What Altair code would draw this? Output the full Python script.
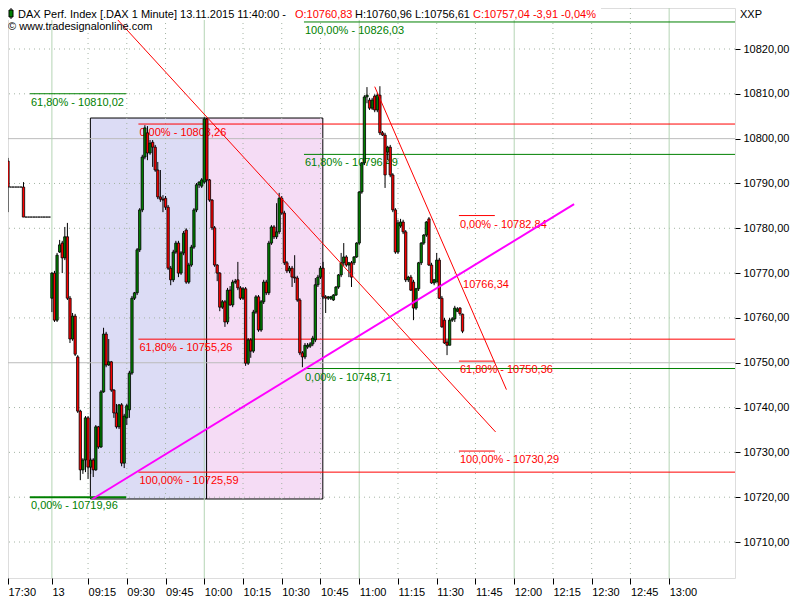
import json
import altair as alt
import pandas as pd

FONT = "Liberation Sans"

# ---------------- candle data (bar index 0 = 17:30 of previous day, 17 = first bar of 13.11.) ----------------
opens = [
    10795.0, 10789.2, 10789.2, 10789.2, 10789.2, 10789.2, 10789.2,
    10782.5, 10782.5, 10782.5, 10782.5, 10782.5, 10782.5, 10782.5, 10782.5, 10782.5, 10782.5,
    10764.4, 10770.0, 10759.5, 10774.7, 10776.7, 10773.4, 10778.1, 10764.4, 10755.3, 10760.4,
    10751.3, 10739.2, 10726.1, 10728.3, 10737.7, 10726.7, 10728.3, 10726.1, 10735.7, 10731.2,
    10743.5, 10756.4, 10749.5, 10750.2, 10743.9, 10738.8, 10735.7, 10740.6, 10727.6, 10737.7,
    10739.5, 10747.7, 10764.4, 10765.6, 10775.2, 10784.1, 10795.9, 10801.3, 10796.8, 10799.2,
    10798.1, 10793.0, 10787.0, 10786.5, 10786.7, 10784.7, 10771.1, 10768.5, 10774.7, 10776.7,
    10770.0, 10774.5, 10779.6, 10768.0, 10771.8, 10775.8, 10784.1, 10789.7, 10789.4, 10790.3,
    10804.4, 10790.8, 10786.3, 10780.1, 10771.8, 10770.0, 10762.4, 10763.6, 10759.1, 10766.2,
    10762.9, 10768.0, 10768.5, 10766.7, 10764.4, 10766.5, 10749.9, 10755.1, 10752.6, 10761.3,
    10764.7, 10757.3, 10763.6, 10768.0, 10765.6, 10776.7, 10780.3, 10778.1, 10779.2, 10786.7,
    10783.4, 10772.3, 10770.5, 10771.1, 10769.1, 10768.9, 10764.0, 10752.2, 10751.3, 10753.5,
    10753.7, 10754.2, 10755.1, 10767.4, 10769.1, 10771.1, 10764.7, 10764.4, 10764.4, 10764.0,
    10765.1, 10766.9, 10769.6, 10772.3, 10773.6, 10771.8, 10772.3, 10772.3, 10773.6, 10776.7,
    10788.1, 10794.6, 10809.3, 10808.6, 10806.8, 10809.5, 10806.4, 10809.7, 10801.3, 10800.8,
    10797.0, 10798.1, 10791.9, 10784.1, 10774.7, 10780.5, 10781.4, 10779.2, 10768.5, 10769.1,
    10768.0, 10762.2, 10766.5, 10772.3, 10776.7, 10778.5, 10782.1, 10771.8, 10767.8, 10768.0,
    10772.9, 10764.4, 10759.5, 10754.6, 10753.9, 10759.5, 10759.8, 10761.5, 10762.2, 10760.83,
]
highs = [
    10795.7, 10789.2, 10789.2, 10789.2, 10789.2, 10789.2, 10790.3,
    10782.5, 10782.5, 10782.5, 10782.5, 10782.5, 10782.5, 10782.5, 10782.5, 10782.5, 10782.5,
    10770.2, 10770.5, 10774.5, 10777.4, 10777.2, 10780.3, 10781.2, 10764.9, 10761.1, 10760.9,
    10751.7, 10739.5, 10728.7, 10738.1, 10738.1, 10728.7, 10728.7, 10736.1, 10735.9, 10743.9,
    10757.8, 10756.9, 10755.3, 10750.4, 10744.1, 10740.8, 10740.8, 10741.0, 10738.6, 10740.8,
    10748.2, 10764.9, 10765.8, 10775.6, 10784.5, 10796.4, 10803.0, 10802.8, 10799.7, 10799.7,
    10798.6, 10794.8, 10793.0, 10787.4, 10787.2, 10785.2, 10771.6, 10775.2, 10777.2, 10777.2,
    10774.9, 10779.4, 10780.0, 10772.3, 10776.3, 10784.5, 10790.1, 10790.5, 10791.2, 10804.8,
    10804.6, 10791.0, 10786.5, 10780.5, 10772.0, 10770.2, 10764.0, 10764.0, 10766.7, 10767.1,
    10768.5, 10768.7, 10772.5, 10767.1, 10766.9, 10766.9, 10755.5, 10755.5, 10761.8, 10765.1,
    10765.1, 10764.0, 10768.5, 10768.5, 10777.2, 10780.7, 10780.7, 10785.6, 10787.9, 10787.2,
    10783.9, 10772.7, 10771.6, 10771.6, 10774.0, 10769.4, 10764.4, 10752.6, 10754.4, 10754.4,
    10754.6, 10756.0, 10768.9, 10769.6, 10771.6, 10772.5, 10765.1, 10764.9, 10764.9, 10765.3,
    10767.1, 10769.8, 10774.5, 10776.7, 10774.0, 10772.5, 10772.7, 10773.8, 10776.9, 10788.3,
    10794.8, 10809.7, 10811.5, 10809.1, 10809.1, 10809.9, 10810.2, 10811.7, 10801.7, 10801.3,
    10798.4, 10798.6, 10792.3, 10784.5, 10781.9, 10782.1, 10781.9, 10779.6, 10769.4, 10769.6,
    10768.5, 10766.7, 10772.5, 10776.9, 10778.7, 10781.6, 10782.5, 10772.3, 10768.7, 10774.5,
    10773.4, 10764.9, 10760.0, 10755.1, 10760.0, 10760.2, 10762.7, 10762.4, 10762.4, 10760.96,
]
lows = [
    10783.6, 10789.2, 10789.2, 10789.2, 10789.2, 10789.2, 10782.5,
    10782.5, 10782.5, 10782.5, 10782.5, 10782.5, 10782.5, 10782.5, 10782.5, 10782.5, 10782.5,
    10761.3, 10759.1, 10759.1, 10774.5, 10770.0, 10772.9, 10764.0, 10754.4, 10754.9, 10751.5,
    10738.8, 10723.8, 10725.2, 10725.6, 10724.1, 10725.2, 10724.5, 10725.9, 10730.8, 10731.0,
    10743.3, 10749.0, 10749.3, 10743.5, 10737.7, 10735.3, 10735.2, 10726.9, 10726.5, 10736.1,
    10737.7, 10747.3, 10764.0, 10765.1, 10774.7, 10783.6, 10795.4, 10795.2, 10796.4, 10793.7,
    10792.6, 10786.5, 10785.9, 10783.6, 10784.1, 10770.7, 10767.3, 10768.0, 10774.3, 10769.1,
    10769.6, 10774.0, 10767.6, 10767.6, 10771.4, 10775.4, 10783.6, 10789.0, 10789.0, 10789.9,
    10790.5, 10785.9, 10779.6, 10771.4, 10768.2, 10761.5, 10762.0, 10758.0, 10758.6, 10762.7,
    10762.4, 10767.6, 10766.2, 10764.0, 10764.0, 10749.3, 10749.5, 10751.1, 10752.2, 10760.9,
    10756.9, 10756.9, 10763.1, 10765.1, 10765.1, 10776.3, 10777.6, 10777.6, 10778.7, 10783.0,
    10771.8, 10770.0, 10770.0, 10766.9, 10767.8, 10763.6, 10751.7, 10749.0, 10750.8, 10753.1,
    10753.3, 10753.7, 10754.6, 10766.9, 10768.7, 10764.2, 10761.1, 10764.0, 10764.0, 10763.8,
    10764.9, 10766.5, 10769.1, 10771.6, 10771.4, 10769.1, 10766.9, 10771.8, 10773.4, 10776.3,
    10787.7, 10794.1, 10807.9, 10806.4, 10806.4, 10805.9, 10805.9, 10800.8, 10800.6, 10789.0,
    10795.2, 10791.4, 10783.6, 10774.3, 10774.3, 10780.1, 10778.7, 10768.0, 10768.0, 10766.0,
    10759.5, 10761.8, 10766.0, 10771.8, 10776.3, 10778.1, 10771.6, 10767.6, 10767.3, 10768.0,
    10764.2, 10757.8, 10754.2, 10751.7, 10753.9, 10759.1, 10759.1, 10761.3, 10760.5, 10756.61,
]
closes = [
    10789.2, 10789.2, 10789.2, 10789.2, 10789.2, 10789.2, 10782.5,
    10782.5, 10782.5, 10782.5, 10782.5, 10782.5, 10782.5, 10782.5, 10782.5, 10782.5, 10782.5,
    10770.0, 10759.5, 10774.0, 10776.3, 10773.4, 10778.1, 10764.4, 10755.3, 10760.4, 10751.9,
    10739.2, 10726.1, 10728.3, 10737.7, 10726.7, 10728.3, 10726.1, 10735.7, 10731.2, 10743.5,
    10756.4, 10749.5, 10750.2, 10743.9, 10738.8, 10735.7, 10740.6, 10727.6, 10738.1, 10740.4,
    10747.7, 10764.4, 10765.6, 10775.2, 10784.1, 10795.9, 10802.4, 10796.8, 10799.0, 10798.1,
    10793.0, 10787.0, 10786.5, 10786.3, 10784.7, 10771.1, 10768.5, 10774.7, 10776.7, 10770.0,
    10774.5, 10778.9, 10768.0, 10771.8, 10775.8, 10784.1, 10789.7, 10790.3, 10790.8, 10804.4,
    10790.8, 10786.3, 10780.1, 10771.8, 10770.0, 10762.4, 10763.6, 10759.1, 10766.2, 10762.9,
    10768.0, 10768.2, 10766.7, 10764.4, 10766.5, 10749.9, 10755.1, 10752.6, 10761.3, 10764.7,
    10757.3, 10763.6, 10768.0, 10765.6, 10776.7, 10780.3, 10778.1, 10779.2, 10786.7, 10783.4,
    10772.3, 10770.5, 10771.1, 10769.1, 10768.9, 10764.0, 10752.2, 10751.3, 10753.9, 10753.9,
    10754.2, 10755.5, 10767.4, 10769.1, 10771.1, 10764.7, 10764.4, 10764.7, 10764.7, 10765.1,
    10766.9, 10769.6, 10772.3, 10773.6, 10771.8, 10772.3, 10769.1, 10773.6, 10776.7, 10788.1,
    10794.6, 10809.3, 10809.7, 10806.8, 10808.6, 10806.4, 10809.7, 10801.3, 10800.8, 10791.9,
    10798.1, 10791.9, 10784.1, 10774.7, 10781.2, 10781.4, 10779.2, 10768.5, 10769.1, 10766.2,
    10762.2, 10766.5, 10772.3, 10776.7, 10778.5, 10781.4, 10771.8, 10767.8, 10768.5, 10772.9,
    10764.4, 10758.0, 10754.4, 10753.9, 10759.5, 10759.8, 10762.2, 10762.0, 10760.95, 10757.04,
]

# ---------------- axes ----------------
tick_idx = [0, 17, 31, 46, 61, 76, 91, 106, 121, 136, 151, 166, 181, 196, 211, 226, 241, 256]
tick_lab = ["17:30", "13", "09:15", "09:30", "09:45", "10:00", "10:15", "10:30", "10:45",
            "11:00", "11:15", "11:30", "11:45", "12:00", "12:15", "12:30", "12:45", "13:00"]
hour_idx = [17, 76, 136, 196, 256]
quarter_idx = [31, 46, 61, 91, 106, 121, 151, 166, 181, 211, 226, 241]
y_ticks = [10710, 10720, 10730, 10740, 10750, 10760, 10770, 10780, 10790, 10800, 10810, 10820]
solid_levels = [10750, 10800]

# ---------------- drawing tools ----------------
fib_x1 = [114.6, 114.6, 114.6, 8.5, 8.5, 50.5, 50.5, 50.5, 174.6, 174.6, 174.6]
fib_x2 = [281.5, 281.5, 281.5, 45.8, 45.8, 281.5, 281.5, 281.5, 188.5, 188.5, 188.5]
fib_level = [10826.03, 10796.49, 10748.71, 10810.02, 10719.96,
             10803.26, 10755.26, 10725.59, 10782.84, 10750.36, 10730.29]
fib_pct = ["100,00%", "61,80%", "0,00%", "61,80%", "0,00%",
           "0,00%", "61,80%", "100,00%", "0,00%", "61,80%", "100,00%"]
fib_color = ["#008000"] * 5 + ["#ff0000"] * 6
fib_width = [1, 1, 1, 1, 2, 1, 1, 1, 1, 1, 1]

magenta_k = [32.7, 219.2]
magenta_p = [10719.6, 10785.4]
red1_k = [30.0, 188.8]
red1_p = [10834.35, 10734.55]
red2_k = [142.0, 193.0]
red2_p = [10811.6, 10744.0]
trend_label_k = 175.8
trend_label_p = 10766.34

box_k1 = [31.9, 76.9]
box_k2 = [76.9, 121.9]
box_lo = [10719.6, 10719.6]
box_hi = [10804.6, 10804.6]
box_fill = ["#dcdcf5", "#f5dcf5"]

# ---------------- build ----------------
xs = alt.Scale(domain=[0, 281.5], nice=False, zero=False)
ys = alt.Scale(domain=[10701.97, 10829.15], nice=False, zero=False)
label_expr = f"{json.dumps(tick_lab)}[indexof({json.dumps(tick_idx)}, datum.value)]"

X_AXIS = alt.Axis(values=tick_idx, labelExpr=label_expr, title=None, grid=False, domain=False,
                  ticks=True, tickColor="black", tickSize=6, labelAlign="left", labelBaseline="top",
                  labelPadding=2, labelFont=FONT, labelFontSize=11, labelColor="black",
                  labelFlush=False, labelOverlap=False, labelBound=False)
Y_AXIS = alt.Axis(orient="right", values=y_ticks,
                  labelExpr="replace(format(datum.value, '.2f'), '.', ',')", title=None,
                  grid=False, domain=False, tickSize=5, tickColor="black", labelPadding=3,
                  labelFont=FONT, labelFontSize=11, labelColor="black", labelAlign="left",
                  labelBaseline="middle", labelFlush=False, labelOverlap=False)


def X(f):
    return alt.X(f, type="quantitative", scale=xs, axis=X_AXIS)


def Y(f):
    return alt.Y(f, type="quantitative", scale=ys, axis=Y_AXIS)


candles = pd.DataFrame({"k": list(range(len(closes))), "open": opens, "high": highs,
                        "low": lows, "close": closes})
candles["dir"] = ["up" if c > o else ("down" if c < o else "flat") for o, c in zip(opens, closes)]
candles["x1"] = candles["k"] - 0.45
candles["x2"] = candles["k"] + 0.45

boxes = pd.DataFrame({"k1": box_k1, "k2": box_k2, "lo": box_lo, "hi": box_hi, "fill": box_fill})
box_layer = alt.Chart(boxes).mark_rect(stroke="black", strokeWidth=1).encode(
    x=X("k1"), x2="k2:Q", y=Y("lo"), y2="hi:Q", fill=alt.Fill("fill:N", scale=None))

dotted_levels = [v for v in y_ticks if v not in solid_levels]
hdot = alt.Chart(pd.DataFrame({"v": dotted_levels})).mark_rule(
    color="#a4b4a4", strokeDash=[1, 4], strokeWidth=1).encode(y=Y("v"))
hsolid = alt.Chart(pd.DataFrame({"v": solid_levels})).mark_rule(
    color="#bcbcbc", strokeWidth=1).encode(y=Y("v"))
vdot = alt.Chart(pd.DataFrame({"k": quarter_idx})).mark_rule(
    color="#a4b4a4", strokeDash=[1, 4], strokeWidth=1).encode(x=X("k"))
vgreen = alt.Chart(pd.DataFrame({"k": hour_idx})).mark_rule(
    color="#b4d4b4", strokeWidth=1).encode(x=X("k"))

fib = pd.DataFrame({"x1": fib_x1, "x2": fib_x2, "level": fib_level, "color": fib_color,
                    "w": fib_width,
                    "label": [f"{p} - " + f"{v:.2f}".replace(".", ",") for p, v in zip(fib_pct, fib_level)]})
fib_rules = alt.Chart(fib).mark_rule(clip=True).encode(
    x=X("x1"), x2="x2:Q", y=Y("level"), color=alt.Color("color:N", scale=None),
    strokeWidth=alt.StrokeWidth("w:Q", scale=None))
fib_text = alt.Chart(fib).mark_text(align="left", baseline="top", dx=1, dy=3, font=FONT,
                                    fontSize=11).encode(
    x=X("x1"), y=Y("level"), text="label:N", color=alt.Color("color:N", scale=None))

trend_lab = alt.Chart(pd.DataFrame({"k": [trend_label_k], "p": [trend_label_p],
                                    "t": [f"{trend_label_p:.2f}".replace(".", ",")]})).mark_text(
    align="left", baseline="bottom", dx=1, dy=0, font=FONT, fontSize=11, color="#ff0000").encode(
    x=X("k"), y=Y("p"), text="t:N")

wicks = alt.Chart(candles).mark_rule(color="black", strokeWidth=1).encode(
    x=X("k"), y=Y("low"), y2="high:Q")
bodies = alt.Chart(candles).mark_rect(stroke="black", strokeWidth=0.8).encode(
    x=X("x1"), x2="x2:Q", y=Y("open"), y2="close:Q",
    fill=alt.Fill("dir:N", scale=alt.Scale(domain=["up", "down", "flat"],
                                           range=["#008000", "#ff0000", "#000000"]), legend=None))


def trend(ks, ps, color, width):
    return alt.Chart(pd.DataFrame({"k": ks, "p": ps})).mark_line(
        color=color, strokeWidth=width, clip=True).encode(x=X("k"), y=Y("p"))


red1 = trend(red1_k, red1_p, "#ff0000", 1)
red2 = trend(red2_k, red2_p, "#ff0000", 1)
magenta = trend(magenta_k, magenta_p, "#ff00ff", 2)

dummy = pd.DataFrame({"a": [0]})
hdr_box = alt.Chart(dummy).mark_rect(color="white").encode(
    x=alt.value(0), x2=alt.value(593), y=alt.value(0), y2=alt.value(12))
icon_wick = alt.Chart(dummy).mark_rule(color="black", strokeWidth=1).encode(
    x=alt.value(3), y=alt.value(0), y2=alt.value(11))
icon_body = alt.Chart(dummy).mark_rect(color="#008000", stroke="black", strokeWidth=1).encode(
    x=alt.value(1), x2=alt.value(5), y=alt.value(2), y2=alt.value(9))


def label(txt, px, py, color="black", baseline="middle"):
    return alt.Chart(dummy).mark_text(align="left", baseline=baseline, font=FONT, fontSize=11,
                                      color=color).encode(
        x=alt.value(px), y=alt.value(py), text=alt.value(txt))


hdr1 = label("DAX Perf. Index [.DAX  1 Minute] 13.11.2015 11:40:00 -", 10, 0.5, baseline="top")
hdr2 = label("O:10760,83", 287, 0.5, "#ff0000", baseline="top")
hdr3 = label("H:10760,96 L:10756,61", 347, 0.5, baseline="top")
hdr4 = label("C:10757,04 -3,91 -0,04%", 465, 0.5, "#ff0000", baseline="top")
copy = label("\u00a9 www.tradesignalonline.com", 0, 19)
xxp = label("XXP", 732, 1, baseline="top")

chart = alt.layer(
    box_layer, hdot, hsolid, vdot, vgreen, fib_rules, fib_text, trend_lab,
    wicks, bodies, red1, red2, magenta,
    hdr_box, icon_wick, icon_body, hdr1, hdr2, hdr3, hdr4, copy, xxp,
).properties(
    width=727, height=570,
    autosize=alt.AutoSizeParams(type="none"),
    padding={"left": 0, "top": 0, "right": 57, "bottom": 22},
).configure_view(
    fill="#f6f6f6", stroke="#8c8c8c", strokeWidth=1
).configure(background="white")

chart.save("out.html", embed_options={"renderer": "svg", "actions": False})
